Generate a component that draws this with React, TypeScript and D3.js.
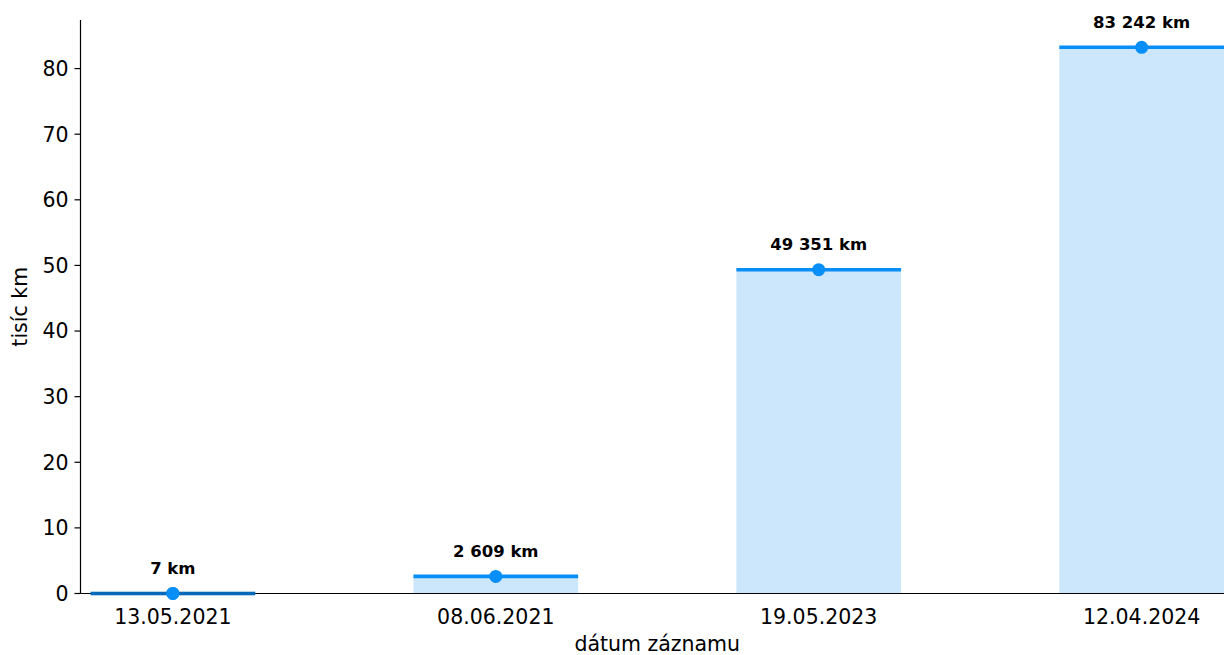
import React from "react";
import * as d3 from "d3";

const categories = ["13.05.2021", "08.06.2021", "19.05.2023", "12.04.2024"];
const valuesKm = [7, 2609, 49351, 83242];
const yTicks = [0, 10, 20, 30, 40, 50, 60, 70, 80];
const yLabel = "tisíc km";
const xLabel = "dátum záznamu";

const W = 1224;
const H = 655;
const left = 80.5;
const right = 1234;
const top = 20;
const bottom = 593.5;
const FONT = "DejaVu Sans, sans-serif";
const LINE = "#078ef7";
const FILL = "#cce7fb";
const FS = 20.5;

const fmt = (v: number) => {
  const s = String(v);
  return s.replace(/\B(?=(\d{3})+(?!\d))/g, " ") + " km";
};

export default function App() {
  const x = d3.scaleLinear().domain([-0.286, categories.length - 1 + 0.286]).range([left, right]);
  const maxK = d3.max(valuesKm)! / 1000;
  const y = d3.scaleLinear().domain([0, maxK * 1.05]).range([bottom, top]);
  const bw = 0.51;

  return (
    <svg width={W} height={H} style={{ position: "absolute", left: 0, top: 0, display: "block" }} fontFamily={FONT}>
      <rect width={W} height={H} fill="#fff" />
      {valuesKm.map((v, i) => {
        const x0 = x(i - bw / 2);
        const x1 = x(i + bw / 2);
        return (
          <rect key={"b" + i} x={x0} y={y(v / 1000)} width={x1 - x0} height={bottom - y(v / 1000)} fill={FILL} />
        );
      })}
      {/* axes */}
      <line x1={left} x2={W} y1={bottom} y2={bottom} stroke="#000" strokeWidth={1.2} />
      <line x1={left} x2={left} y1={top} y2={bottom} stroke="#000" strokeWidth={1.2} />
      {yTicks.map((t) => (
        <g key={"t" + t}>
          <line x1={left - 6} x2={left} y1={y(t)} y2={y(t)} stroke="#000" strokeWidth={1.2} />
          <text x={left - 12} y={y(t)} dy="0.36em" textAnchor="end" fontSize={FS} fill="#000">
            {t}
          </text>
        </g>
      ))}
      {categories.map((c, i) => (
        <text key={"c" + i} x={x(i)} y={624} textAnchor="middle" fontSize={FS} fill="#000">
          {c}
        </text>
      ))}
      {valuesKm.map((v, i) => {
        const x0 = x(i - bw / 2);
        const x1 = x(i + bw / 2);
        const yy = y(v / 1000);
        return (
          <g key={"l" + i}>
            <line x1={x0} x2={x1} y1={yy} y2={yy} stroke={LINE} strokeWidth={3.6} />
            <circle cx={x(i)} cy={yy} r={6.5} fill={LINE} />
            <text x={x(i)} y={yy - 19.5} textAnchor="middle" fontSize={16.5} fontWeight="bold" fill="#000">
              {fmt(v)}
            </text>
          </g>
        );
      })}
      <line x1={x(-bw / 2)} x2={x(bw / 2)} y1={bottom} y2={bottom} stroke="#000" strokeOpacity={0.25} strokeWidth={3.6} />
      <circle cx={x(0)} cy={y(valuesKm[0] / 1000)} r={6.5} fill={LINE} />
      <text x={(left + right) / 2} y={651} textAnchor="middle" fontSize={FS} fill="#000">
        {xLabel}
      </text>
      <text
        transform={`translate(27, ${(top + bottom) / 2}) rotate(-90)`}
        textAnchor="middle"
        fontSize={FS}
        fill="#000"
      >
        {yLabel}
      </text>
    </svg>
  );
}
